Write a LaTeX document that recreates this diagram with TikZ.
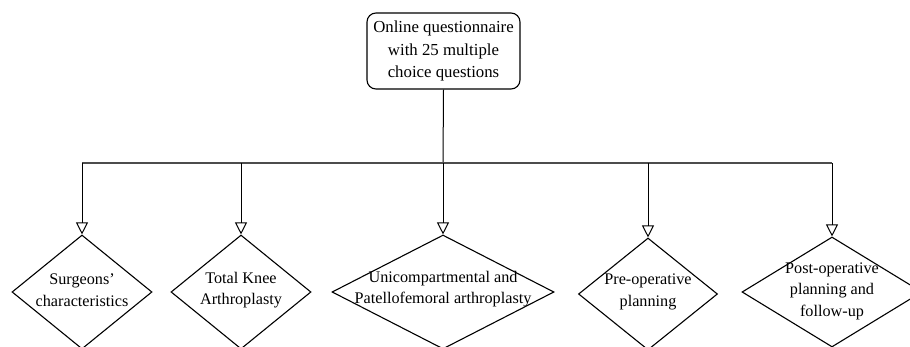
\documentclass[tikz,border=0pt]{standalone}
\usepackage{fontspec}
\setmainfont{Liberation Serif}
\usetikzlibrary{shapes.geometric,arrows.meta}
\tikzset{
  topbox/.style={draw, line width=1.1pt, rounded corners=9pt, minimum width=153pt, minimum height=76pt, inner sep=0pt, align=center, font=\fontsize{16.8}{22.5}\selectfont},
  dia/.style={draw, diamond, line width=1.1pt, inner sep=0pt},
  diatext/.style={align=center, inner sep=0pt, font=\fontsize{16.2}{21.5}\selectfont},
  conn/.style={line width=1pt, -{Triangle[open, length=12pt, width=12pt, line width=1pt]}},
  barline/.style={line width=2pt, draw=black!70},
}
\begin{document}
\begin{tikzpicture}[x=1pt, y=-1pt]
\useasboundingbox (0,0) rectangle (910,347);
\node[topbox] (top) at (443.5,51) {Online questionnaire\\with 25 multiple\\choice questions};
\coordinate (bar) at (443,163);

\node[dia, minimum width=140pt, minimum height=114pt] (d1) at (82,292) {};
\node[dia, minimum width=140pt, minimum height=114pt] (d2) at (241,292) {};
\node[dia, minimum width=222pt, minimum height=114pt] (d3) at (443,292) {};
\node[dia, minimum width=139pt, minimum height=112pt] (d4) at (648,294) {};
\node[dia, minimum width=180pt, minimum height=110pt] (d5) at (832,292) {};

\node[diatext] (t1) at (82,290) {Surgeons’\\characteristics};
\node[diatext] (t2) at (241,290) {Total Knee\\Arthroplasty};
\node[diatext] (t3) at (443,289) {Unicompartmental and\\Patellofemoral arthroplasty};
\node[diatext] (t4) at (648,292) {Pre-operative\\planning};
\node[diatext] (t5) at (832,291) {Post-operative\\planning and\\follow-up};

\draw[line width=1pt] (top.south) -- (bar);
\draw[barline] (d1.north |- bar) -- (d5.north |- bar);
\foreach \d in {d1,d2,d3,d4,d5}{
  \draw[conn] (\d.north |- bar) -- (\d.north);
}
\end{tikzpicture}
\end{document}
